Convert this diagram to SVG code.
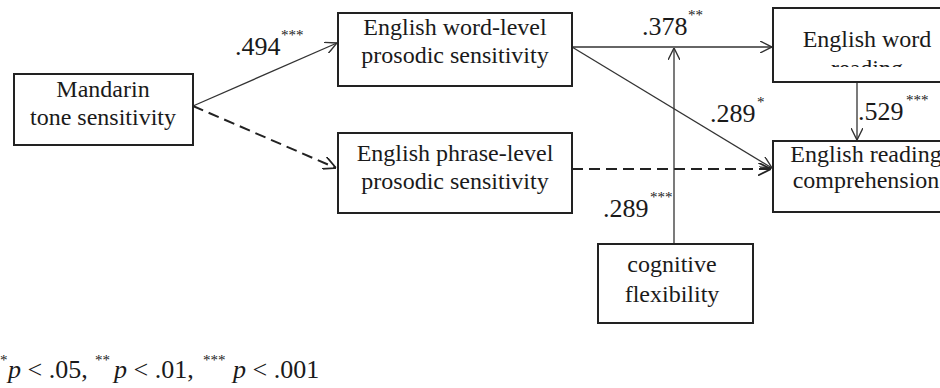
<svg xmlns="http://www.w3.org/2000/svg" width="940" height="388" viewBox="0 0 940 388">
<style>
.box{fill:#fff;stroke:#222;stroke-width:2}
text{font-family:'Liberation Serif','DejaVu Serif',serif;fill:#1a1a1a}
.t{font-size:24px;text-anchor:middle}
.lab{font-size:26px}
.sup{font-size:15px}
.c{fill:none;stroke:#333;stroke-width:1.3}
.d{fill:none;stroke:#222;stroke-width:2;stroke-dasharray:11 6}
</style>
<defs>
<marker id="arr" viewBox="0 0 12 12" refX="12" refY="6" markerWidth="12" markerHeight="12" markerUnits="userSpaceOnUse" orient="auto">
<path d="M0,0 L12,6 L0,12" fill="none" stroke="#333" stroke-width="1.4"/>
</marker>
<marker id="arrd" viewBox="0 0 12 12" refX="12" refY="6" markerWidth="13" markerHeight="13" markerUnits="userSpaceOnUse" orient="auto">
<path d="M0,0 L12,6 L0,12" fill="none" stroke="#222" stroke-width="1.6"/>
</marker>
<clipPath id="clipread"><rect x="773" y="8" width="180" height="59"/></clipPath>
</defs>

<g id="connectors">
<path class="c" d="M193,106 L337,43" marker-end="url(#arr)"/>
<path class="d" d="M193,106 L336,168" marker-end="url(#arrd)"/>
<path class="c" d="M572,47 L772,47" marker-end="url(#arr)"/>
<path class="c" d="M572,47 L772,168" marker-end="url(#arr)"/>
<path class="d" d="M572,169 L771,169" marker-end="url(#arrd)"/>
<path class="c" d="M674,244 L674,48" marker-end="url(#arr)"/>
<path class="c" d="M857,82 L857,140" marker-end="url(#arr)"/>
</g>

<g id="mandarin">
<rect class="box" x="14" y="74" width="179" height="71"/>
<text class="t" x="103" y="97">Mandarin</text>
<text class="t" x="103" y="125">tone sensitivity</text>
</g>

<g id="word-level">
<rect class="box" x="338" y="13" width="234" height="73"/>
<text class="t" x="455" y="35">English word-level</text>
<text class="t" x="455" y="63">prosodic sensitivity</text>
</g>

<g id="phrase-level">
<rect class="box" x="338" y="133" width="234" height="80"/>
<text class="t" x="455" y="161">English phrase-level</text>
<text class="t" x="455" y="189">prosodic sensitivity</text>
</g>

<g id="word-reading">
<rect class="box" x="773" y="8" width="180" height="74"/>
<text class="t" x="867" y="47">English word</text>
<text class="t" x="867" y="76" clip-path="url(#clipread)">reading</text>
</g>

<g id="reading-comprehension">
<rect class="box" x="773" y="141" width="180" height="71"/>
<text class="t" x="866" y="162">English reading</text>
<text class="t" x="866" y="188">comprehension</text>
</g>

<g id="cognitive-flexibility">
<rect class="box" x="598" y="244" width="155" height="79"/>
<text class="t" x="672" y="272">cognitive</text>
<text class="t" x="672" y="302">flexibility</text>
</g>

<g id="labels">
<text class="lab" x="235" y="55">.494</text><text class="sup" x="281" y="40">***</text>
<text class="lab" x="642" y="35">.378</text><text class="sup" x="688" y="20">**</text>
<text class="lab" x="710" y="122">.289</text><text class="sup" x="757" y="107">*</text>
<text class="lab" x="858" y="120">.529</text><text class="sup" x="906" y="105">***</text>
<text class="lab" x="603" y="217">.289</text><text class="sup" x="650" y="202">***</text>
</g>

<g id="legend">
<text class="sup" x="0" y="365">*</text>
<text class="lab" x="8" y="378"><tspan font-style="italic">p</tspan> &lt; .05,</text>
<text class="sup" x="95" y="365">**</text>
<text class="lab" x="114" y="378"><tspan font-style="italic">p</tspan> &lt; .01,</text>
<text class="sup" x="203" y="365">***</text>
<text class="lab" x="233" y="378"><tspan font-style="italic">p</tspan> &lt; .001</text>
</g>
</svg>
